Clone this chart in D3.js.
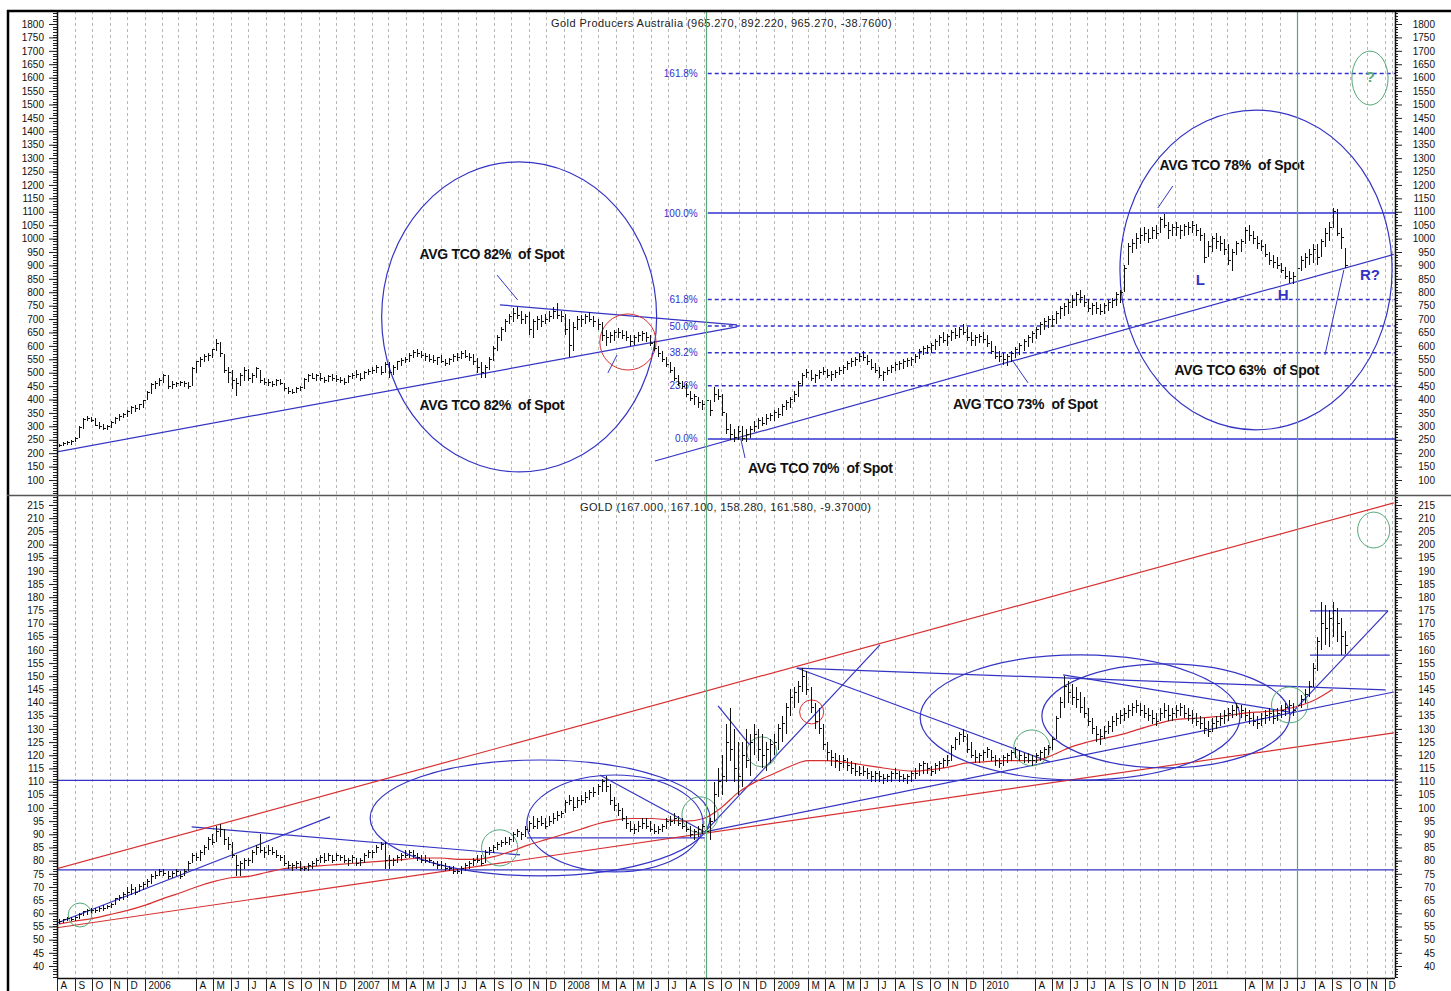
<!DOCTYPE html>
<html><head><meta charset="utf-8">
<script src="https://cdn.jsdelivr.net/npm/d3@7"></script>
<style>
body{margin:0;background:#fff;}
svg{display:block;font-family:Arial,"Liberation Sans",sans-serif;}
</style></head><body>
<svg id="chart" width="1451" height="991"></svg>
<script>
// ---- weekly bars, [high, low, close], one row per month, first bar 2005-08-05 ----
const gpaBars = [
[235,222,228],[240,225,236],[245,230,240],[250,232,245],
[260,240,255],[300,255,295],[330,290,325],[340,320,330],[335,315,322],
[330,300,305],[315,290,300],[310,285,292],[305,285,300],
[320,295,315],[335,310,330],[345,320,335],[350,330,345],
[360,335,355],[375,345,370],[380,355,365],[385,360,380],[400,370,395],
[430,400,425],[460,420,455],[470,440,460],[480,450,470],
[495,460,490],[490,440,450],[470,440,455],[465,445,460],
[470,450,465],[470,445,460],[465,440,450],[520,450,515],[545,500,540],
[560,520,550],[570,540,560],[575,545,565],[590,555,585],
[625,580,610],[615,560,570],[570,500,510],[520,460,500],
[510,440,470],[480,415,460],[500,450,490],[520,470,510],[515,470,480],
[500,460,490],[520,480,515],[510,460,470],[480,455,465],
[475,450,465],[470,445,455],[475,450,470],[475,455,460],
[460,430,440],[445,420,430],[440,420,425],[445,425,440],[450,430,445],
[480,440,475],[495,465,490],[500,475,480],[495,470,490],
[500,470,480],[485,460,470],[490,465,485],[495,470,480],
[490,465,475],[485,460,470],[480,455,465],[490,460,485],[500,475,490],
[510,480,495],[500,470,480],[505,475,500],[515,490,505],
[520,495,510],[530,500,520],[525,490,500],[540,500,530],
[540,480,500],[530,490,520],[545,510,540],[555,525,545],[560,535,550],
[575,540,565],[585,555,575],[590,560,570],[580,555,565],
[575,545,560],[570,540,550],[565,535,545],[560,530,555],
[565,535,540],[550,525,535],[555,530,550],[570,540,560],[575,545,555],
[580,550,570],[585,555,560],[575,545,555],[570,530,540],
[555,500,520],[540,480,500],[530,480,520],[560,510,550],[600,545,590],
[640,580,630],[670,620,660],[700,650,690],[720,680,710],
[740,690,720],[745,700,715],[730,680,700],[720,680,710],
[725,640,660],[700,630,690],[710,660,700],[715,670,690],[720,680,700],
[730,690,710],[745,700,730],[760,700,715],[730,690,710],
[720,640,660],[700,560,600],[690,580,670],[710,660,700],
[715,670,700],[720,680,710],[725,690,700],[710,670,690],[700,660,680],
[690,620,640],[660,600,630],[650,610,640],[660,620,650],
[665,630,650],[660,625,640],[655,620,630],[640,600,615],
[640,605,630],[650,615,640],[655,620,645],[650,615,630],[640,600,610],
[620,580,590],[600,560,570],[580,540,550],[560,520,530],
[540,500,510],[520,470,480],[490,450,460],[470,440,450],
[460,410,420],[430,395,405],[420,380,410],[410,370,390],[400,360,380],
[410,360,395],[400,340,360],[445,390,420],[440,400,410],
[420,340,350],[350,270,290],[310,250,270],[290,240,260],[300,250,280],
[300,245,255],[290,240,270],[300,255,290],[320,280,300],
[330,290,320],[335,300,310],[345,305,330],[350,320,340],
[360,320,350],[370,330,345],[385,340,375],[400,360,390],[410,370,400],
[430,390,420],[470,410,460],[500,450,490],[515,480,500],
[510,470,480],[495,460,490],[510,475,500],[520,490,505],
[515,480,490],[505,470,495],[510,480,500],[520,490,510],
[530,495,520],[545,510,535],[555,520,540],[560,525,550],[575,540,560],
[580,545,555],[565,530,540],[550,510,520],[535,500,510],
[520,480,490],[505,470,500],[520,490,510],[530,500,520],[540,505,530],
[545,510,535],[550,515,540],[555,520,545],[560,525,550],
[570,535,560],[590,550,580],[600,565,590],[605,570,595],
[610,575,600],[625,585,615],[640,600,630],[650,610,620],[645,600,635],
[660,620,650],[665,625,640],[670,630,660],[680,640,650],
[670,620,630],[650,600,620],[640,600,630],[645,610,635],
[650,610,625],[640,595,610],[620,570,580],[600,550,560],[580,540,560],
[575,530,550],[570,525,560],[580,540,570],[595,555,585],
[610,565,600],[625,580,615],[640,595,630],[655,610,645],
[670,625,660],[690,640,680],[705,660,690],[710,665,700],[715,670,700],
[730,680,720],[750,700,740],[760,710,745],[775,720,760],
[790,740,770],[800,750,790],[810,760,780],[790,745,760],
[775,725,740],[760,715,750],[765,720,740],[755,715,730],[760,720,750],
[770,730,760],[780,740,770],[800,750,790],[810,760,800],
[900,800,890],[985,900,970],[1000,945,980],[1020,960,1000],
[1040,980,1010],[1045,990,1020],[1035,985,1000],[1045,1000,1030],[1050,1000,1020],
[1080,1020,1070],[1090,1040,1050],[1060,1000,1030],[1055,1010,1040],
[1060,1010,1040],[1050,1000,1030],[1055,1010,1045],[1060,1015,1040],[1065,1020,1050],
[1055,1010,1030],[1040,990,1010],[1020,910,930],[990,930,970],
[1010,950,1000],[1020,960,990],[1010,955,980],[1000,940,960],
[980,900,920],[960,880,950],[990,940,980],[1000,950,990],
[1045,980,1030],[1050,990,1010],[1030,980,1000],[1010,960,980],[995,955,970],
[980,930,940],[950,900,920],[940,890,910],[930,885,900],
[910,870,880],[895,850,860],[880,835,850],[875,830,860],
[905,855,890],[935,880,920],[945,890,930],[960,900,940],[980,910,960],
[980,900,930],[1000,930,990],[1040,970,1020],[1060,990,1040],
[1115,1040,1100],[1110,1010,1020],[1040,960,1004],[965,892,900]
];

const goldBars = [
[58,56,57],[58,56.5,57.5],[58.5,57,58],[58.5,57,57.5],
[59,57,58.5],[60,58,59.5],[61,59,60.5],[61.5,59.5,61],[62,60,61],
[62,60,61],[62.5,60.5,62],[63,61,62],[63,61.5,62.5],
[64,62,63.5],[66,63,65.5],[67,64.5,66],[68,65,67],
[70,66,68],[71,67,69],[70,67,68],[71,68,70],[72,69,71],
[73,70,72],[75,71,74],[76,73,74.5],[77,74,76],
[77,74,75],[76,73,74],[76,73.5,75],[77,74,76],
[76,73,74],[77,74,76],[80,76,79],[83,79,82],[83,80,81],
[84,80,83],[86,82,85],[89,84,88],[90,86,87],
[93,87,91],[94,89,92],[92,86,88],[89,84,86],
[87,81,82],[82,74,78],[80,74,79],[81,77,80],[81,78,80],
[84,79,83],[86,82,85],[90,83,84],[85,81,83],
[86,82,84],[85,82,83],[84,81,82],[82,80,81],
[82,78,79],[80,77,78],[79,76,78],[80,77,79],[80,76,77],
[78,76,77],[79,76,78],[80,77,79],[81,78,80],
[82,79,81],[83,79,80],[83,80,82],[82,79,80],
[83,80,82],[82,80,81],[82,79,80],[81,78,80],[82,79,81],
[81,78,79],[81,78,80],[83,79,82],[84,81,83],
[84,81,83],[86,83,85],[87,84,86],[87,77,80],
[82,77,80],[81,78,80],[82,79,81],[83,80,82],[84,81,82],
[84,81,83],[84,81,82],[83,80,81],[82,79,80],
[82,79,80],[81,79,80],[80,78,79],[80,77,78],
[80,77,78],[79,76,77],[78,76,77],[78,75,76],[77,75,76],
[78,75,77],[79,76,78],[80,77,79],[81,78,80],
[82,79,80],[82,78,79],[84,79,83],[85,82,84],[86,83,85],
[87,84,86],[88,85,87],[89,86,87],[89,86,88],
[91,87,90],[92,89,91],[91,88,90],[93,89,92],
[95,91,94],[97,92,93],[96,92,95],[97,93,94],[96,92,93],
[97,93,95],[98,94,96],[99,95,97],[99,96,98],
[103,98,102],[105,101,103],[104,99,100],[104,100,103],
[105,101,103],[106,102,104],[107,103,106],[108,104,106],[109,105,108],
[111,106,110],[112,106,108],[109,101,103],[104,99,101],
[102,97,99],[100,95,96],[97,92,94],[95,91,92],
[94,90,92],[95,91,93],[96,92,94],[96,92,93],[95,91,92],
[94,90,91],[93,90,92],[94,91,93],[96,92,95],
[97,93,95],[98,94,96],[97,93,94],[96,92,93],
[95,91,92],[93,89,90],[92,88,91],[93,89,92],[94,90,93],
[95,90,91],[96,88,95],[110,95,105],[115,104,110],
[120,105,112],[132,110,125],[138,118,122],[130,110,115],[125,105,112],
[125,108,120],[130,115,118],[128,112,125],[132,120,128],
[130,118,122],[128,115,120],[125,114,122],[126,117,124],
[128,120,125],[132,122,130],[135,125,132],[140,128,138],[145,135,142],
[146,138,144],[148,140,146],[153,144,150],[152,143,145],
[146,136,138],[140,130,133],[138,128,130],[132,122,124],
[125,118,121],[122,116,119],[121,115,118],[120,114,117],
[120,115,118],[119,114,116],[118,113,115],[117,112,114],[116,112,113],
[116,112,114],[115,111,113],[114,110,112],[114,110,113],
[114,110,112],[113,109,111],[113,110,112],[114,110,113],[115,111,113],
[114,110,112],[113,110,111],[113,109,112],[114,110,113],
[115,111,113],[117,112,116],[118,113,117],[117,113,115],
[116,112,114],[117,113,116],[118,114,117],[119,115,118],[120,116,118],
[124,118,123],[127,122,126],[129,124,128],[130,125,127],
[128,121,122],[125,119,120],[122,117,119],[121,117,120],
[122,118,121],[123,119,122],[122,118,119],[120,116,118],[119,115,117],
[120,116,119],[121,117,120],[122,118,121],[123,119,122],
[122,118,120],[121,117,119],[121,117,118],[120,116,118],
[121,117,120],[122,118,121],[123,119,122],[124,120,123],[127,122,126],
[135,126,134],[142,134,140],[150,138,146],[148,140,144],
[147,139,142],[146,138,141],[144,136,138],[142,134,136],
[138,131,133],[134,128,130],[131,125,128],[130,124,127],[131,126,129],
[133,128,131],[135,129,133],[136,131,134],[137,132,135],
[138,133,136],[139,134,137],[140,135,138],[141,136,139],
[140,135,137],[139,134,136],[138,133,135],[137,132,134],[136,131,133],
[138,133,136],[140,134,137],[139,133,135],[138,133,136],
[139,134,137],[140,135,138],[139,134,136],[138,133,135],[137,132,134],
[136,131,133],[135,130,132],[134,128,130],[133,127,129],
[134,129,132],[135,130,133],[136,131,134],[137,132,135],
[138,133,136],[139,134,137],[140,135,138],[139,134,137],
[138,133,135],[137,132,134],[136,131,133],[135,130,132],[136,131,134],
[137,132,135],[138,133,136],[137,132,134],[138,133,136],
[139,134,137],[140,135,138],[141,136,139],[140,135,137],
[141,136,139],[143,138,141],[145,140,143],[148,142,146],[155,146,153],
[165,152,163],[178,160,170],[177,162,168],[175,161,172],
[178,165,175],[176,163,170],[172,158,165],[167.1,158.28,161.58]
];

// moving average drawn under the GOLD bars
const goldAverage = [
["2005-08-05",56],["2005-09-01",57],["2005-10-01",58],["2005-11-01",59.5],["2005-12-01",61],
["2006-01-01",63],["2006-02-01",65.5],["2006-03-01",67.5],["2006-04-01",70],["2006-05-01",72],
["2006-06-01",73.5],["2006-07-01",74],["2006-08-01",75.5],["2006-09-01",77],["2006-10-01",77.5],
["2006-11-01",78],["2006-12-01",78.5],["2007-01-01",79],["2007-02-01",79.5],["2007-03-01",80],
["2007-04-01",80.5],["2007-05-01",81],["2007-06-01",81],["2007-07-01",80.5],["2007-08-01",80.5],
["2007-09-01",81.5],["2007-10-01",83.5],["2007-11-01",86],["2007-12-01",88],["2008-01-01",90],
["2008-02-01",92],["2008-03-01",94],["2008-04-01",95.5],["2008-05-01",96],["2008-06-01",96],
["2008-07-01",95.5],["2008-08-01",95],["2008-09-01",96],["2008-10-01",100],["2008-11-01",106],
["2008-12-01",110],["2009-01-01",113],["2009-02-01",116],["2009-03-01",118],["2009-04-01",118],
["2009-05-01",117.5],["2009-06-01",116.5],["2009-07-01",115.5],["2009-08-01",114.5],["2009-09-01",114],
["2009-10-01",114.5],["2009-11-01",115.5],["2009-12-01",117],["2010-01-01",117.5],["2010-02-01",118],
["2010-03-01",118],["2010-04-01",118],["2010-05-01",120],["2010-06-01",123],["2010-07-01",125],
["2010-08-01",126.5],["2010-09-01",128],["2010-10-01",130],["2010-11-01",132],["2010-12-01",133.5],
["2011-01-01",134],["2011-02-01",134.5],["2011-03-01",135],["2011-04-01",136],["2011-05-01",136.5],
["2011-06-01",137],["2011-07-01",138.5],["2011-08-01",141],["2011-09-01",145]
];

// month labels along the time axis, starting August 2005 ("" = unlabelled month)
const monthLabels = [
"A","S","O","N","D",
"2006","","","A","M","J","J","A","S","O","N","D",
"2007","","M","A","M","J","J","A","S","O","N","D",
"2008","","M","A","M","J","J","A","S","O","N","D",
"2009","","M","A","M","J","J","A","S","O","N","D",
"2010","","","A","M","J","J","A","S","O","N","D",
"2011","","","A","M","J","J","A","S","O","N","D"
];

const gpaTicks = d3.range(100, 1801, 50);
const goldTicks = d3.range(40, 216, 5);

// Fibonacci retracement of the 2008 low / 2010 high swing
const fibLow = 253, fibHigh = 1095, fibStart = "2008-09-08";
const fibLevels = [0, 0.236, 0.382, 0.5, 0.618, 1, 1.618];
const fibLabels = ["0.0%","23.6%","38.2%","50.0%","61.8%","100.0%","161.8%"];

// hand-drawn studies: [[date, value], [date, value]]
const gpaLines = [
 [["2005-08-01",205],["2008-10-29",671]],
 [["2007-09-12",753],["2008-10-29",678]],
 [["2008-06-08",171],["2011-12-17",941]]
];
const gpaPointers = [
 [["2007-09-07",864],["2007-10-13",771]],
 [["2008-03-18",499],["2008-04-03",566]],
 [["2010-02-20",548],["2010-03-20",462]],
 [["2008-11-05",249],["2008-11-12",182]],
 [["2010-11-27",1196],["2010-11-01",1114]],
 [["2011-08-19",566],["2011-09-21",883]]
];
// ellipses as bounding boxes: [from, to, low, high, colour]
const gpaRings = [
 ["2007-02-18","2008-06-11",130,1286,"blue"],
 ["2010-08-27","2011-12-14",287,1479,"blue"],
 ["2008-03-04","2008-06-10",510,719,"red"],
 ["2011-10-05","2011-12-07",1498,1699,"green"]
];
const gpaNotes = [
 ["2007-04-25",924,"AVG TCO 82%  of Spot","black"],
 ["2007-04-25",361,"AVG TCO 82%  of Spot","black"],
 ["2010-11-04",1256,"AVG TCO 78%  of Spot","black"],
 ["2010-11-30",492,"AVG TCO 63%  of Spot","black"],
 ["2009-11-09",365,"AVG TCO 73%  of Spot","black"],
 ["2008-11-17",126,"AVG TCO 70%  of Spot","black"],
 ["2011-01-06",827,"L","blue"],
 ["2011-05-29",771,"H","blue"],
 ["2011-10-19",846,"R?","blue"],
 ["2011-10-29",1584,"?","green"]
];

const goldLines = [
 [["2005-08-03",56.4],["2006-11-20",96.6],"blue"],
 [["2006-03-24",92.8],["2007-10-17",82.2],"blue"],
 [["2008-03-04",112.5],["2008-09-03",90.9],"blue"],
 [["2007-10-29",88.6],["2008-09-03",88.6],"blue"],
 [["2008-09-03",90.9],["2009-07-05",161.9],"blue"],
 [["2008-09-03",90.9],["2011-12-17",144],"blue"],
 [["2009-02-10",153.1],["2011-12-02",144.8],"blue"],
 [["2008-09-26",138.7],["2008-11-20",123.9],"blue"],
 [["2009-02-10",153.1],["2010-04-27",117.5],"blue"],
 [["2010-05-20",150.5],["2011-06-19",136.4],"blue"],
 [["2011-07-24",174.8],["2011-12-07",174.8],"blue"],
 [["2011-07-24",158],["2011-12-10",158],"blue"],
 [["2011-06-19",135.3],["2011-12-07",174.8],"blue"],
 [["2005-08-01",110.5],["2011-12-17",110.5],"blue"],
 [["2005-08-01",76.5],["2011-12-17",76.5],"blue"],
 [["2005-08-01",76.9],["2011-12-17",215.8],"red"],
 [["2005-08-01",54.5],["2011-12-17",128.5],"red"]
];
const goldRings = [
 ["2007-01-29","2008-09-12",74.2,118.2,"blue"],
 ["2007-10-29","2008-08-31",75.7,112.5,"blue"],
 ["2009-09-13","2011-03-24",110.6,158.1,"blue"],
 ["2010-04-13","2011-06-19",115.2,154.7,"blue"],
 ["2005-08-21","2005-10-01",54.8,63.9,"green"],
 ["2007-08-11","2007-10-13",78,91.7,"green"],
 ["2008-07-25","2008-09-26",90.5,104.2,"green"],
 ["2008-11-15","2009-01-06",115.6,127,"green"],
 ["2010-02-23","2010-04-27",116,129.6,"green"],
 ["2011-05-18","2011-07-20",132.3,145.9,"green"],
 ["2011-10-15","2011-12-10",198.7,212.3,"green"],
 ["2009-02-15","2009-03-29",131.9,141,"red"]
];

// event markers across both panes
const markerDates = ["2008-09-05","2011-07-01"];

const gpaTitle = "Gold Producers Australia (965.270, 892.220, 965.270, -38.7600)";
const goldTitle = "GOLD (167.000, 167.100, 158.280, 161.580, -9.37000)";

// ---- drawing ----
const colours = {blue:"#3434c4", fib:"#3030d0", red:"#d83030", green:"#52a878", black:"#111"};
const parse = d3.timeParse("%Y-%m-%d");
const svg = d3.select("#chart");
const L = 57, R = 1395;
const topPane = {y0:11, y1:495}, botPane = {y0:495, y1:978};

// bars are spaced evenly by week; the scale runs through the first and last bar
const x = d3.scaleTime().domain([parse("2005-08-05"), parse("2011-09-23")]).range([59, 1345]);
const yTop = d3.scaleLinear().domain([100, 1800]).range([480, 24]);
const yBot = d3.scaleLinear().domain([40, 215]).range([966, 505]);
const firstBar = parse("2005-08-05");
const barDate = i => d3.timeDay.offset(firstBar, 7 * i);
const months = d3.timeMonth.range(new Date(2005, 7, 1), new Date(2012, 0, 1));

const defs = svg.append("defs");
[["clipTop", topPane], ["clipBot", botPane]].forEach(([id, p]) => {
  defs.append("clipPath").attr("id", id).append("rect")
    .attr("x", L).attr("y", p.y0).attr("width", R - L).attr("height", p.y1 - p.y0);
});

// month gridlines
svg.append("g").selectAll("line").data(months.slice(1)).join("line")
  .attr("x1", d => Math.round(x(d)) + 0.5).attr("x2", d => Math.round(x(d)) + 0.5)
  .attr("y1", topPane.y0).attr("y2", botPane.y1)
  .attr("stroke", "#b8b8b8").attr("stroke-width", 1).attr("stroke-dasharray", "3,3");
svg.append("line").attr("x1", 1392.5).attr("x2", 1392.5).attr("y1", topPane.y0).attr("y2", botPane.y1)
  .attr("stroke", "#b8b8b8").attr("stroke-dasharray", "3,3");

const gTop = svg.append("g").attr("clip-path", "url(#clipTop)");
const gBot = svg.append("g").attr("clip-path", "url(#clipBot)");

// ---------- top pane ----------
fibLevels.forEach((lv, i) => {
  const v = fibLow + lv * (fibHigh - fibLow);
  const solid = lv === 0 || lv === 1;
  const py = yTop(v);
  gTop.append("line")
    .attr("x1", x(parse(fibStart))).attr("x2", R)
    .attr("y1", py).attr("y2", py)
    .attr("stroke", colours.fib).attr("stroke-width", 1.5)
    .attr("stroke-dasharray", solid ? null : "4,3");
  gTop.append("text").attr("x", x(parse(fibStart)) - 10).attr("y", py + 3.5)
    .attr("text-anchor", "end").attr("font-size", 10).attr("fill", colours.fib)
    .text(fibLabels[i]);
});

function drawLines(g, ys, arr, width) {
  g.selectAll(null).data(arr).join("line")
    .attr("x1", d => x(parse(d[0][0]))).attr("y1", d => ys(d[0][1]))
    .attr("x2", d => x(parse(d[1][0]))).attr("y2", d => ys(d[1][1]))
    .attr("stroke", d => colours[d[2] || "blue"]).attr("stroke-width", width);
}
function drawRings(g, ys, arr) {
  g.selectAll(null).data(arr).join("ellipse")
    .attr("cx", d => (x(parse(d[0])) + x(parse(d[1]))) / 2)
    .attr("cy", d => (ys(d[2]) + ys(d[3])) / 2)
    .attr("rx", d => (x(parse(d[1])) - x(parse(d[0]))) / 2)
    .attr("ry", d => (ys(d[2]) - ys(d[3])) / 2)
    .attr("fill", "none").attr("stroke", d => colours[d[4]])
    .attr("stroke-width", d => d[4] === "blue" ? 1.2 : 1);
}
function drawBars(g, ys, arr) {
  const b = g.append("g").attr("stroke", "#111").attr("stroke-width", 1).attr("shape-rendering", "crispEdges");
  b.selectAll(null).data(arr).join("path")
    .attr("d", (d, i) => {
      const px = Math.round(x(barDate(i))) + 0.5;
      return `M${px},${ys(d[0])}V${ys(d[1])}M${px},${ys(d[2])}H${px + 2}`;
    });
}

drawLines(gTop, yTop, gpaLines, 1.2);
drawLines(gTop, yTop, gpaPointers, 1);
drawRings(gTop, yTop, gpaRings);
drawBars(gTop, yTop, gpaBars);

gTop.selectAll(null).data(gpaNotes).join("text")
  .attr("x", d => x(parse(d[0]))).attr("y", d => yTop(d[1]))
  .attr("font-size", d => d[2].length > 3 ? 14 : 15).attr("font-weight", "bold")
  .attr("fill", d => colours[d[3]]).attr("letter-spacing", d => d[2].length > 3 ? -0.3 : 0)
  .style("white-space", "pre")
  .text(d => d[2]);

svg.append("text").attr("x", 551).attr("y", 27).attr("font-size", 11).attr("letter-spacing", 0.45)
  .attr("fill", "#222").style("white-space", "pre").text(gpaTitle);

// ---------- bottom pane ----------
drawLines(gBot, yBot, goldLines, 1.2);
gBot.append("path").datum(goldAverage)
  .attr("d", d3.line().x(d => x(parse(d[0]))).y(d => yBot(d[1])).curve(d3.curveMonotoneX))
  .attr("fill", "none").attr("stroke", colours.red).attr("stroke-width", 1.2);
drawRings(gBot, yBot, goldRings);
drawBars(gBot, yBot, goldBars);

svg.append("text").attr("x", 580).attr("y", 511).attr("font-size", 11).attr("letter-spacing", 0.45)
  .attr("fill", "#222").text(goldTitle);

// event markers
svg.append("g").selectAll("line").data(markerDates).join("line")
  .attr("x1", d => Math.round(x(parse(d))) + 0.5).attr("x2", d => Math.round(x(parse(d))) + 0.5)
  .attr("y1", topPane.y0).attr("y2", botPane.y1)
  .attr("stroke", "#5aa878").attr("stroke-width", 1.2);

// ---------- axes ----------
function valueAxes(ys, ticks, minorStep, p) {
  const vLo = ys.invert(p.y1), vHi = ys.invert(p.y0);
  const minors = d3.range(Math.ceil(vLo / minorStep) * minorStep, vHi, minorStep);
  const fmt = d3.format("d");
  const left = svg.append("g").attr("transform", `translate(${L},0)`);
  left.call(d3.axisLeft(ys).tickValues(ticks).tickFormat(fmt).tickSize(8).tickPadding(5).tickSizeOuter(0));
  left.append("g").selectAll("line").data(minors).join("line")
    .attr("x1", -4).attr("x2", 0).attr("y1", d => Math.round(ys(d)) + 0.5).attr("y2", d => Math.round(ys(d)) + 0.5)
    .attr("stroke", "#222");
  left.select(".domain").remove();
  left.append("line").attr("x1", 0.5).attr("x2", 0.5).attr("y1", p.y0).attr("y2", p.y1).attr("stroke", "#111").attr("stroke-width", 1.5);
  const right = svg.append("g").attr("transform", `translate(${R},0)`);
  right.call(d3.axisRight(ys).tickValues(ticks).tickFormat(fmt).tickSize(7).tickPadding(0).tickSizeOuter(0));
  right.selectAll("text").attr("text-anchor", "end").attr("x", 40);
  right.append("g").selectAll("line").data(minors).join("line")
    .attr("x1", 0).attr("x2", 3).attr("y1", d => Math.round(ys(d)) + 0.5).attr("y2", d => Math.round(ys(d)) + 0.5)
    .attr("stroke", "#222");
  right.select(".domain").remove();
  right.append("line").attr("x1", 0.5).attr("x2", 0.5).attr("y1", p.y0).attr("y2", p.y1).attr("stroke", "#111").attr("stroke-width", 1.5);
  [left, right].forEach(a => a.selectAll(".tick text").attr("font-size", 10).attr("fill", "#111").attr("font-family", "Arial, Liberation Sans, sans-serif"));
  [left, right].forEach(a => a.selectAll(".tick line").attr("stroke", "#222"));
}
valueAxes(yTop, gpaTicks, 10, topPane);
valueAxes(yBot, goldTicks, 1, botPane);

// time axis
svg.append("line").attr("x1", L).attr("x2", R).attr("y1", botPane.y1 + 0.5).attr("y2", botPane.y1 + 0.5)
  .attr("stroke", "#111").attr("stroke-width", 1.5);
const lab = svg.append("g");
months.forEach((m, i) => {
  const t = monthLabels[i];
  if (!t) return;
  const px = Math.round(x(m)) + 0.5;
  lab.append("line").attr("x1", px).attr("x2", px).attr("y1", botPane.y1).attr("y2", 991).attr("stroke", "#222");
  lab.append("text").attr("x", px + 3).attr("y", 989).attr("font-size", 10).attr("fill", "#111").text(t);
});

// frame
svg.append("line").attr("x1", 7).attr("x2", 1451).attr("y1", 11).attr("y2", 11).attr("stroke", "#000").attr("stroke-width", 2.5);
svg.append("line").attr("x1", 8).attr("x2", 8).attr("y1", 10).attr("y2", 991).attr("stroke", "#000").attr("stroke-width", 2.5);
svg.append("line").attr("x1", 7).attr("x2", 1451).attr("y1", 495.5).attr("y2", 495.5).attr("stroke", "#555").attr("stroke-width", 1.5);
</script></body></html>
